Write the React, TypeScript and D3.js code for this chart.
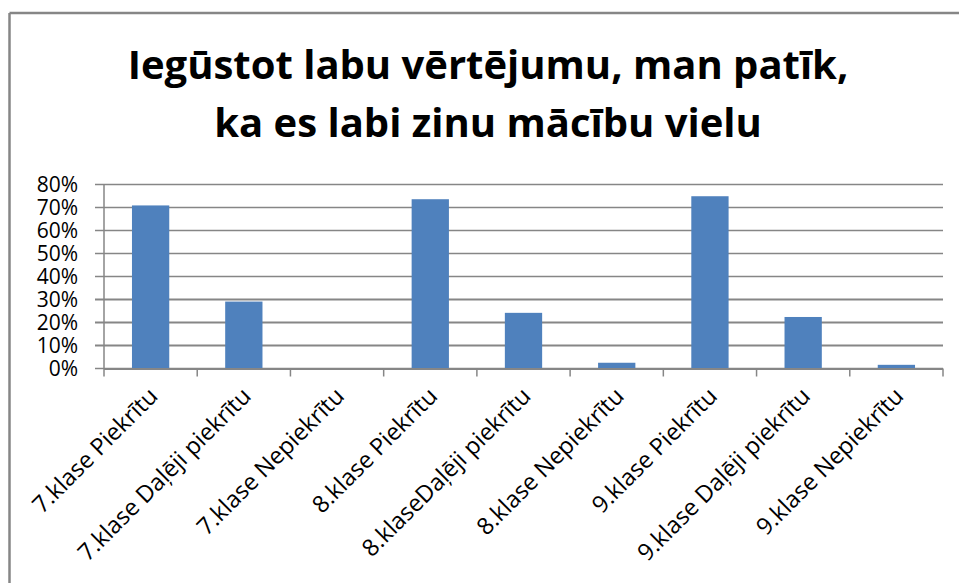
import React from "react";
import * as d3 from "d3";

const categories = [
  "7.klase Piekrītu",
  "7.klase Daļēji piekrītu",
  "7.klase Nepiekrītu",
  "8.klase Piekrītu",
  "8.klaseDaļēji piekrītu",
  "8.klase Nepiekrītu",
  "9.klase Piekrītu",
  "9.klase Daļēji piekrītu",
  "9.klase Nepiekrītu",
];
const values = [0.709, 0.291, 0, 0.736, 0.242, 0.025, 0.749, 0.224, 0.016];
const yTicks = [0, 0.1, 0.2, 0.3, 0.4, 0.5, 0.6, 0.7, 0.8];
const titleLines = ["Iegūstot labu vērtējumu, man patīk,", "ka es labi zinu mācību vielu"];

const W = 959;
const H = 583;
const plot = { left: 104, right: 943, top: 184.5, bottom: 368.5 };
const FONT = "'Open Sans', Lato, sans-serif";

export default function App() {
  const x = d3
    .scaleBand<string>()
    .domain(categories)
    .range([plot.left, plot.right])
    .paddingInner(0.6)
    .paddingOuter(0.3);
  const xb = d3.scaleBand<string>().domain(categories).range([plot.left, plot.right]);
  const y = d3.scaleLinear().domain([0, 0.8]).range([plot.bottom, plot.top]);
  const fmt = d3.format(".0%");
  const grid = "#868686";

  return (
    <svg
      width={W}
      height={H}
      style={{ position: "absolute", left: 0, top: 0, background: "#fff" }}
      fontFamily={FONT}
    >
      {/* frame */}
      <line x1={9.5} x2={W} y1={13} y2={13} stroke={grid} strokeWidth={2.5} />
      <line x1={9.5} x2={9.5} y1={13} y2={H} stroke={grid} strokeWidth={2.5} />

      {/* title */}
      {titleLines.map((t, i) => (
        <text
          key={i}
          x={488}
          y={79 + i * 58}
          textAnchor="middle"
          fontSize={40}
          fontWeight={700}
          fill="#000"
        >
          {t}
        </text>
      ))}

      {/* gridlines + y ticks */}
      {yTicks.map((t) => (
        <g key={t}>
          <line
            x1={plot.left - 9}
            x2={plot.right}
            y1={y(t)}
            y2={y(t)}
            stroke={grid}
            strokeWidth={t <= 0.3 && t > 0 ? 2 : 1.5}
          />
          <text
            x={78}
            y={y(t)}
            dy="0.36em"
            textAnchor="end"
            fontSize={21}
            fill="#000"
          >
            {fmt(t)}
          </text>
        </g>
      ))}

      {/* y axis */}
      <line x1={plot.left} x2={plot.left} y1={plot.top} y2={plot.bottom} stroke={grid} strokeWidth={1.5} />

      {/* bars */}
      {categories.map((c, i) => (
        <rect
          key={c}
          x={x(c)}
          y={y(values[i])}
          width={x.bandwidth()}
          height={plot.bottom - y(values[i])}
          fill="#4F81BD"
        />
      ))}

      {/* x axis */}
      <line x1={plot.left} x2={plot.right} y1={plot.bottom + 0.5} y2={plot.bottom + 0.5} stroke={grid} strokeWidth={2} />
      {[...categories.map((c) => xb(c) as number), plot.right].map((t, i) => (
        <line key={i} x1={t} x2={t} y1={plot.bottom} y2={plot.bottom + 8} stroke={grid} strokeWidth={1.5} />
      ))}

      {/* x labels */}
      {categories.map((c) => {
        const cx = (xb(c) as number) + xb.bandwidth() / 2;
        return (
          <text
            key={c}
            transform={`translate(${cx - 3},${386}) rotate(-45)`}
            textAnchor="end"
            dy="0.7em"
            fontSize={23.5}
            fill="#000"
          >
            {c}
          </text>
        );
      })}
    </svg>
  );
}
